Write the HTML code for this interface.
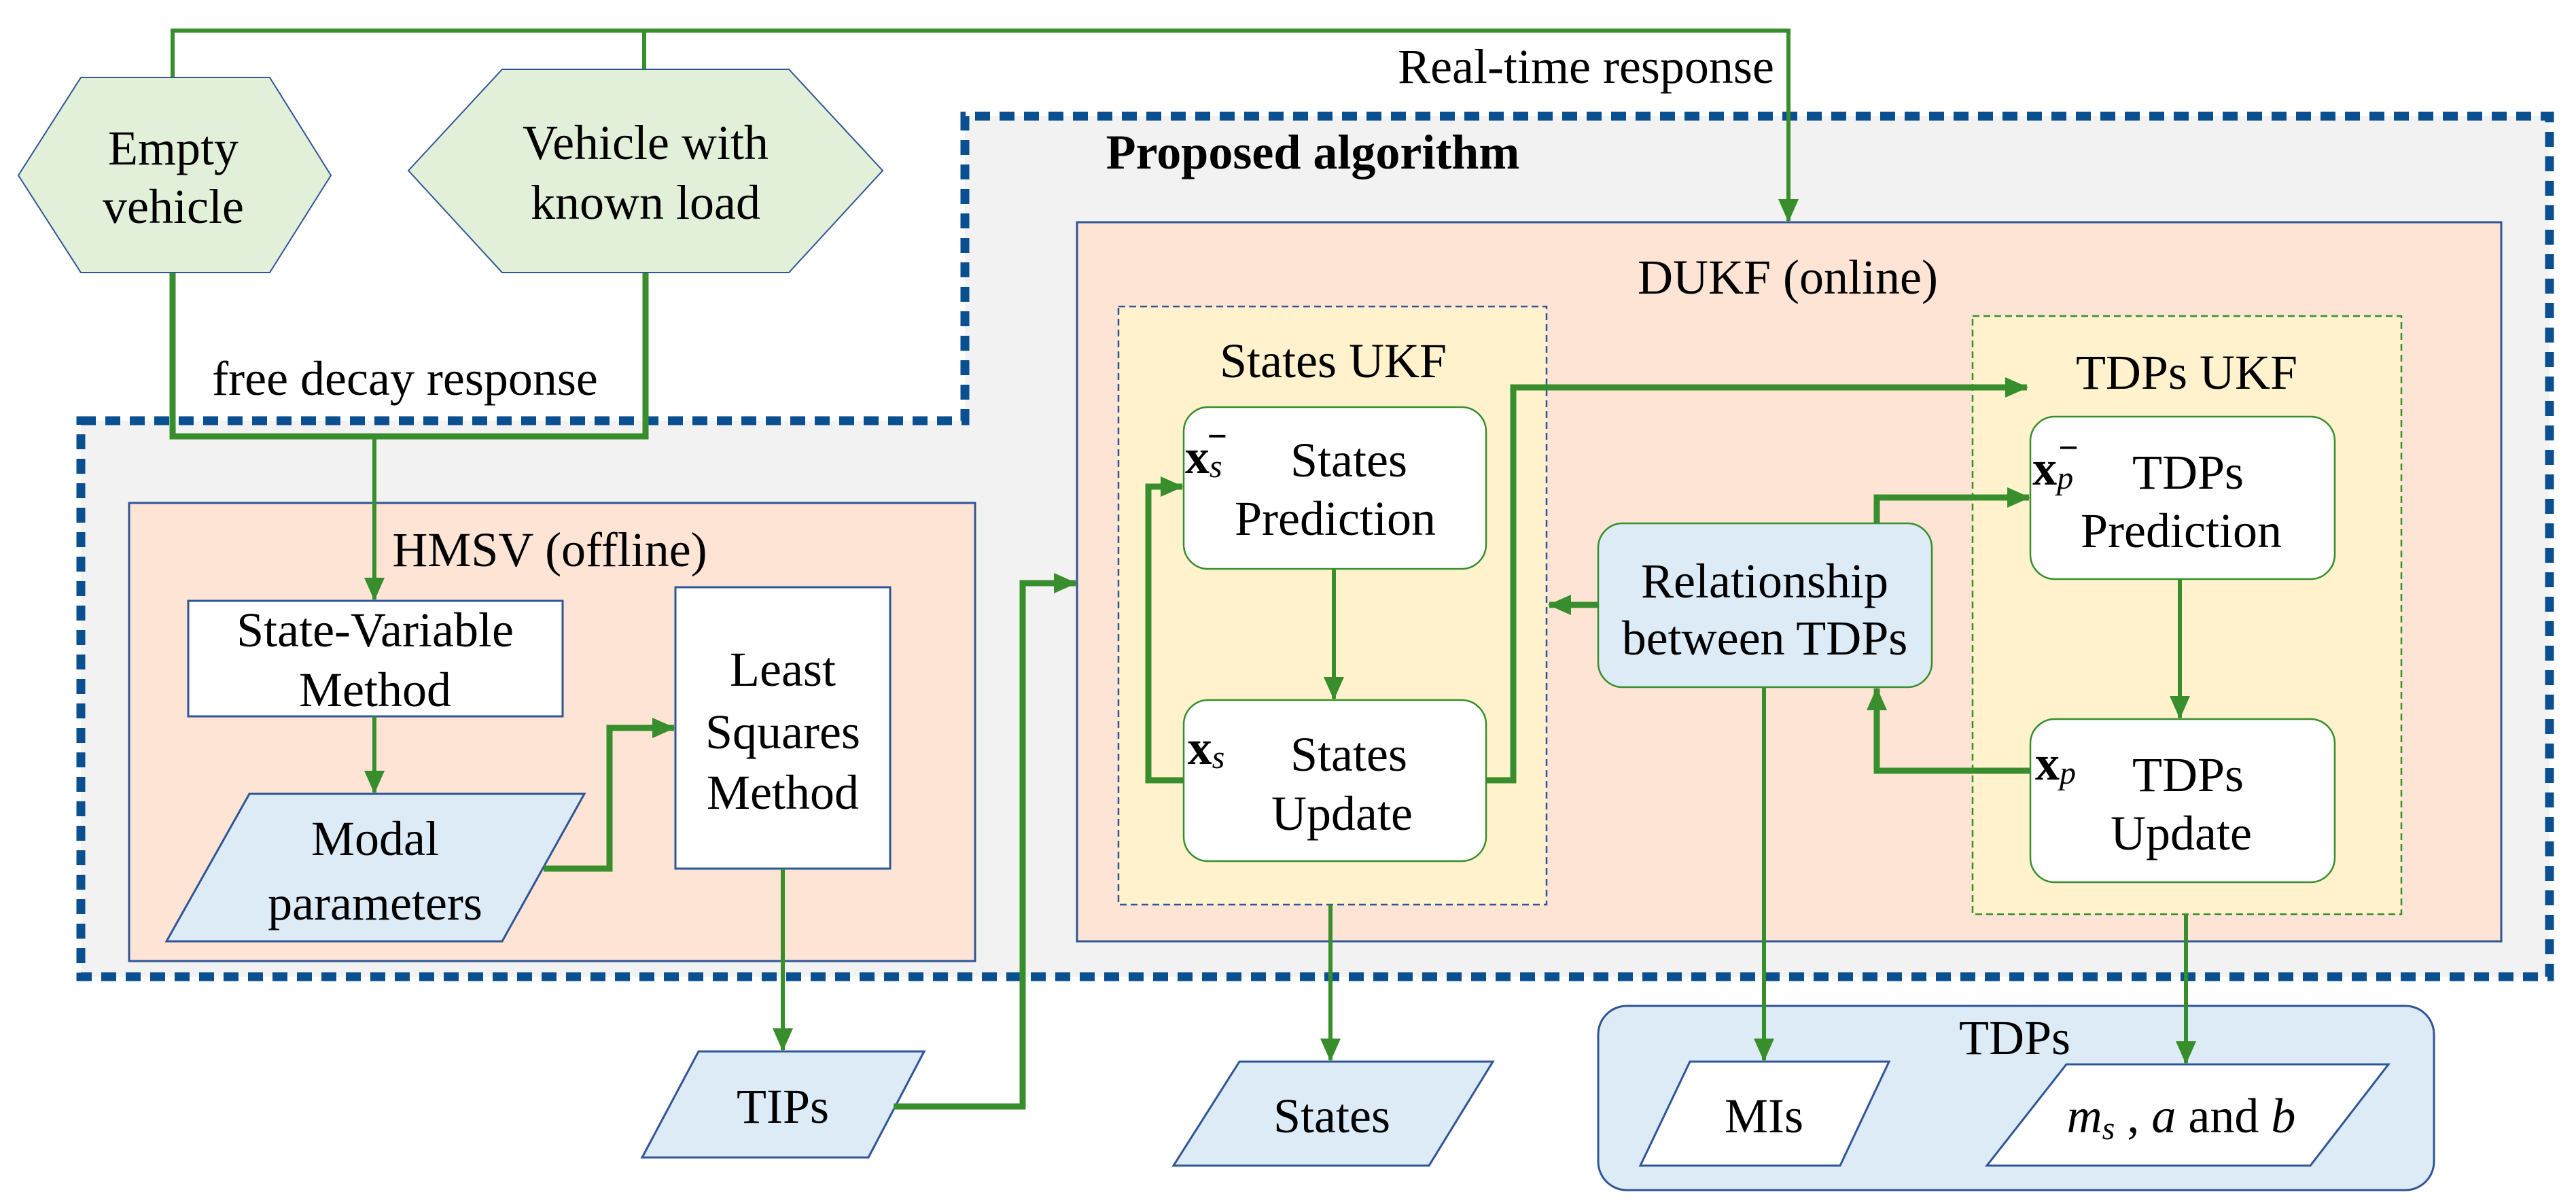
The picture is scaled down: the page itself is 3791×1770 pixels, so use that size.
<!DOCTYPE html>
<html><head><meta charset="utf-8"><style>
html,body{margin:0;padding:0;background:#fff}
svg{display:block}
svg text{font-family:"Liberation Serif","Noto Serif CJK SC","DejaVu Serif",serif;font-size:72px;fill:#000;text-anchor:middle;dominant-baseline:central}
</style></head><body>
<svg width="3791" height="1770" viewBox="0 0 3791 1770" xmlns="http://www.w3.org/2000/svg">
<defs>
<marker id="a" markerUnits="userSpaceOnUse" markerWidth="34" markerHeight="30" refX="32" refY="15" orient="auto">
<path d="M0,0 L34,15 L0,30 z" fill="#388e2c"/></marker>
</defs>
<path d="M119,619 L1420,619 L1420,171 L3752,171 L3752,1437 L119,1437 Z" fill="#f2f2f2" stroke="#0a4f8f" stroke-width="13" stroke-dasharray="22 14"/>
<text x="1932" y="224" font-weight="bold">Proposed algorithm</text>

<g fill="none" stroke="#388e2c" stroke-width="6">
<path d="M254,114 L254,45 L2632,45 L2632,325" marker-end="url(#a)"/>
<path d="M948,45 L948,102"/>
<path d="M254,401 L254,642 L950,642 L950,401" stroke-width="9"/>
</g>
<text x="2334" y="98">Real-time response</text>
<text x="596" y="557">free decay response</text>

<g>
<polygon points="27,258 119,114 397,114 487,258 397,401 119,401" fill="#e2f0d9" stroke="#2f5597" stroke-width="2"/>
<text x="255" y="218">Empty</text><text x="255" y="304">vehicle</text>
<polygon points="601,251 739,102 1161,102 1299,251 1161,401 739,401" fill="#e2f0d9" stroke="#2f5597" stroke-width="2"/>
<text x="950" y="210">Vehicle with</text><text x="950" y="298">known load</text>

<rect x="190" y="740" width="1245" height="674" fill="#fde4d5" stroke="#2f5597" stroke-width="3"/>
<text x="809" y="809">HMSV (offline)</text>
<rect x="277" y="884" width="551" height="170" fill="#fff" stroke="#2f5597" stroke-width="3"/>
<text x="552" y="927">State-Variable</text><text x="552" y="1015">Method</text>
<polygon points="367,1168 860,1168 739,1385 245,1385" fill="#ddebf7" stroke="#2f5597" stroke-width="3"/>
<text x="552" y="1234">Modal</text><text x="552" y="1329">parameters</text>
<rect x="994" y="864" width="316" height="414" fill="#fff" stroke="#2f5597" stroke-width="3"/>
<text x="1152" y="985">Least</text><text x="1152" y="1077">Squares</text><text x="1152" y="1166">Method</text>

<rect x="1585" y="327" width="2096" height="1058" fill="#fde4d5" stroke="#2f5597" stroke-width="3"/>
<text x="2631" y="408">DUKF (online)</text>
<rect x="1646" y="451" width="630" height="880" fill="#fff2cc" stroke="#2f5597" stroke-width="2.5" stroke-dasharray="10 6"/>
<text x="1962" y="531">States UKF</text>
<rect x="2903" y="465" width="631" height="880" fill="#fff2cc" stroke="#388e2c" stroke-width="2.5" stroke-dasharray="10 6"/>
<text x="3218" y="548">TDPs UKF</text>

<rect x="1742" y="599" width="445" height="238" rx="36" fill="#fff" stroke="#388e2c" stroke-width="2.5"/>
<text x="1775" y="672" font-weight="bold">x<tspan style="font-size:48px;font-style:italic;font-weight:normal" dy="14">s</tspan><tspan style="font-size:52px" dx="-22" dy="-44">−</tspan></text>
<text x="1985" y="677">States</text><text x="1965" y="763">Prediction</text>
<rect x="1742" y="1030" width="445" height="237" rx="36" fill="#fff" stroke="#388e2c" stroke-width="2.5"/>
<text x="1775" y="1100" font-weight="bold">x<tspan style="font-size:48px;font-style:italic;font-weight:normal" dy="14">s</tspan></text>
<text x="1985" y="1110">States</text><text x="1975" y="1197">Update</text>

<rect x="2988" y="613" width="448" height="239" rx="36" fill="#fff" stroke="#388e2c" stroke-width="2.5"/>
<text x="3025" y="689" font-weight="bold">x<tspan style="font-size:48px;font-style:italic;font-weight:normal" dy="14">p</tspan><tspan style="font-size:52px" dx="-22" dy="-44">−</tspan></text>
<text x="3220" y="695">TDPs</text><text x="3210" y="781">Prediction</text>
<rect x="2988" y="1058" width="448" height="240" rx="36" fill="#fff" stroke="#388e2c" stroke-width="2.5"/>
<text x="3025" y="1123" font-weight="bold">x<tspan style="font-size:48px;font-style:italic;font-weight:normal" dy="14">p</tspan></text>
<text x="3220" y="1140">TDPs</text><text x="3210" y="1226">Update</text>

<rect x="2352" y="770" width="491" height="241" rx="36" fill="#ddebf7" stroke="#388e2c" stroke-width="2.5"/>
<text x="2597" y="855">Relationship</text><text x="2597" y="939">between TDPs</text>

<rect x="2352" y="1480" width="1230" height="271" rx="42" fill="#ddebf7" stroke="#2f5597" stroke-width="3"/>
<text x="2965" y="1527">TDPs</text>
<polygon points="1028,1547 1360,1547 1278,1703 945,1703" fill="#ddebf7" stroke="#2f5597" stroke-width="3"/>
<text x="1152" y="1628">TIPs</text>
<polygon points="1824,1562 2197,1562 2103,1715 1727,1715" fill="#ddebf7" stroke="#2f5597" stroke-width="3"/>
<text x="1960" y="1642">States</text>
<polygon points="2487,1562 2780,1562 2708,1715 2414,1715" fill="#fff" stroke="#2f5597" stroke-width="3"/>
<text x="2596" y="1642">MIs</text>
<polygon points="3041,1566 3515,1566 3400,1715 2924,1715" fill="#fff" stroke="#2f5597" stroke-width="3"/>
<text x="3210" y="1642"><tspan font-style="italic">m</tspan><tspan style="font-size:48px;font-style:italic" dy="18">s</tspan><tspan dy="-18"> , </tspan><tspan font-style="italic">a</tspan> and <tspan font-style="italic">b</tspan></text>
</g>

<g fill="none" stroke="#388e2c" stroke-width="6">
<path d="M551,642 L551,882" marker-end="url(#a)"/>
<path d="M551,1054 L551,1166" marker-end="url(#a)"/>
<path d="M800,1278 L897,1278 L897,1071 L992,1071" stroke-width="9" marker-end="url(#a)"/>
<path d="M1152,1278 L1152,1545" marker-end="url(#a)"/>
<path d="M1315,1628 L1505,1628 L1505,858 L1583,858" stroke-width="9" marker-end="url(#a)"/>
<path d="M1963,837 L1963,1028" marker-end="url(#a)"/>
<path d="M1742,1148 L1690,1148 L1690,716 L1740,716" stroke-width="9" marker-end="url(#a)"/>
<path d="M2187,1148 L2227,1148 L2227,570 L2983,570" stroke-width="9" marker-end="url(#a)"/>
<path d="M2352,890 L2280,890" stroke-width="9" marker-end="url(#a)"/>
<path d="M2762,770 L2762,732 L2986,732" stroke-width="9" marker-end="url(#a)"/>
<path d="M2988,1134 L2762,1134 L2762,1013" stroke-width="9" marker-end="url(#a)"/>
<path d="M3208,852 L3208,1056" marker-end="url(#a)"/>
<path d="M2596,1011 L2596,1560" marker-end="url(#a)"/>
<path d="M1958,1331 L1958,1560" marker-end="url(#a)"/>
<path d="M3217,1345 L3217,1564" marker-end="url(#a)"/>
</g>
</svg>
</body></html>
